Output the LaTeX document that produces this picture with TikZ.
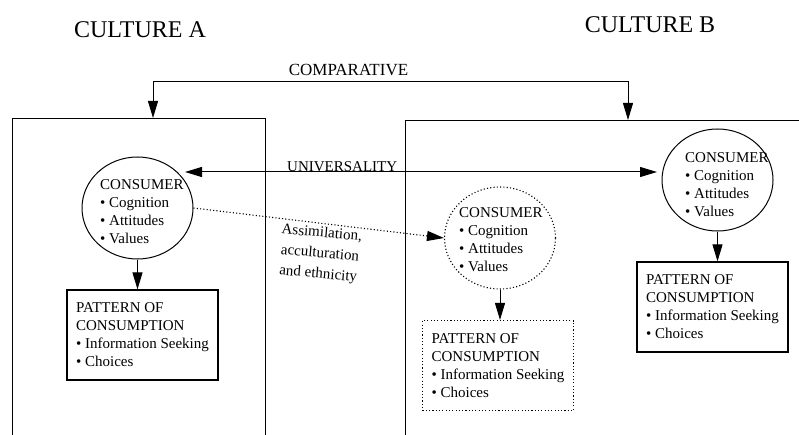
\documentclass[tikz,border=0pt]{standalone}
\usepackage{fontspec}
\setmainfont{Liberation Serif}
\usetikzlibrary{arrows.meta,shapes.geometric}
\begin{document}
\begin{tikzpicture}[x=1pt,y=1pt,
  tipend/.style={-{Triangle[length=17pt,width=10pt]}},
  tipboth/.style={{Triangle[length=17pt,width=10pt]}-{Triangle[length=17pt,width=10pt]}},
  conn/.style={line width=1pt},
  dotline/.style={line width=1.1pt, dash pattern=on 1.1pt off 2.2pt},
  outer/.style={draw, rectangle, line width=1.2pt, inner sep=0pt, anchor=north west},
  cons/.style={draw, ellipse, line width=1pt, minimum width=111pt, minimum height=102pt, inner sep=0pt},
  ctext/.style={anchor=north west, align=left, inner sep=0pt, font=\fontsize{15}{18}\selectfont},
  pat/.style={draw, rectangle, line width=1.2pt, minimum width=151pt, minimum height=90pt, align=left, inner sep=0pt, font=\fontsize{15}{18}\selectfont},
  title/.style={anchor=base, inner sep=0pt, font=\fontsize{24}{28}\selectfont},
  lab/.style={inner sep=0pt, font=\fontsize{15}{18}\selectfont}
]
\useasboundingbox (0,0) rectangle (799,434);

% titles
\node[title] (ca) at (140,396) {CULTURE A};
\node[title] (cb) at (650,401) {CULTURE B};

% outer boxes (open beyond the picture's edge)
\node[outer, minimum width=253pt, minimum height=340pt] (boxA) at (12,316) {};
\node[outer, minimum width=420pt, minimum height=340pt] (boxB) at (405,314) {};

% comparative
\node[lab, anchor=base, font=\fontsize{17}{20}\selectfont] (comp) at (348.5,358) {COMPARATIVE};
\coordinate (cmpL) at (153,352);
\coordinate (cmpR) at (628,352);
\draw[conn, tipboth] (cmpL |- boxA.north) -- (cmpL) -- (cmpR) -- (cmpR |- boxB.north);

% consumers
\node[cons] (cA) at (137.5,226) {};
\node[cons, dotline] (cB) at (500,196) {};
\node[cons] (cC) at (717.5,254) {};
\node[ctext] (tA) at (100,255) {CONSUMER\\• Cognition\\• Attitudes\\• Values};
\node[ctext] (tB) at (459,227) {CONSUMER\\• Cognition\\• Attitudes\\• Values};
\node[ctext] (tC) at (685,282) {CONSUMER\\• Cognition\\• Attitudes\\• Values};

% patterns of consumption
\node[pat] (pA) at (142.5,99) {PATTERN OF\\CONSUMPTION\\• Information Seeking\\• Choices};
\node[pat, dotline] (pB) at (498,68.5) {PATTERN OF\\CONSUMPTION\\• Information Seeking\\• Choices};
\node[pat] (pC) at (712.5,127) {PATTERN OF\\CONSUMPTION\\• Information Seeking\\• Choices};

\draw[conn, tipend] (cA.south) -- (cA.south |- pA.north);
\draw[conn, tipend] (cB.south) -- (cB.south |- pB.north);
\draw[conn, tipend] (cC.south) -- (cC.south |- pC.north);

% universality
\coordinate (uL) at (185,262);
\coordinate (uR) at (657,262);
\draw[conn, tipboth] (uL) -- (uR);
\node[lab, anchor=base west] (univ) at (287,262) {UNIVERSALITY};

% assimilation
\draw[dotline, tipend] (cA.east) -- (cB.west);
\node[lab, rotate=-5, align=center, font=\fontsize{15}{20.5}\selectfont] (assim) at (320,180) {Assimilation,\\acculturation\\and ethnicity};
\end{tikzpicture}
\end{document}
